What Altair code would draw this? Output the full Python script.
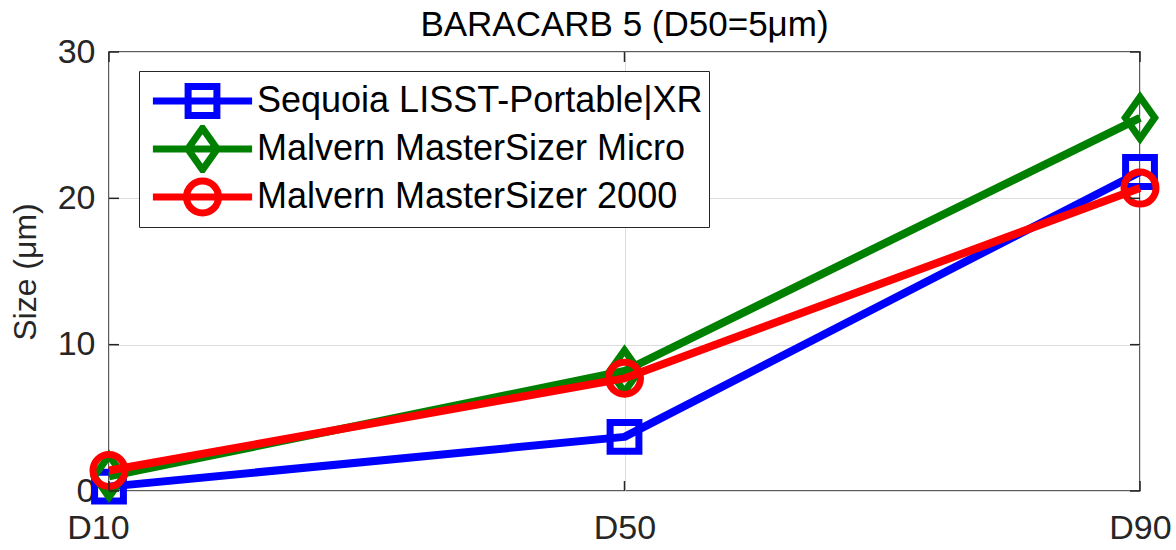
import altair as alt
import pandas as pd

# Particle size statistics for BARACARB 5, three instruments
positions = ["D10", "D50", "D90"]
sequoia = [0.3, 3.7, 21.8]
micro = [1.0, 8.2, 25.5]
ms2000 = [1.4, 7.7, 20.7]

series_names = [
    "Sequoia LISST-Portable|XR",
    "Malvern MasterSizer Micro",
    "Malvern MasterSizer 2000",
]
series_colors = ["#0000ff", "#008000", "#ff0000"]
y_ticks = [0, 10, 20, 30]

W, H = 1031, 439
FONT = "Liberation Sans"

rows = []
for name, vals in zip(series_names, [sequoia, micro, ms2000]):
    for p, v in zip(positions, vals):
        rows.append({"pos": p, "size": v, "series": name})
df = pd.DataFrame(rows)

# marker outlines in symbol units (scaled by sqrt(size)/2)
sq = "M-0.9,-0.9H0.9V0.9H-0.9Z"
di = "M0,-1.3L0.92,0L0,1.3L-0.92,0Z"
ci = "M-1,0A1,1,0,1,1,1,0A1,1,0,1,1,-1,0Z"
markers = [sq, di, ci]
# legend entries: marker with a line segment through it
leg_line = "M-3.1,0H3.1"
legend_paths = [leg_line + m for m in markers]
MARKER_SIZE = 1024

x_scale = alt.Scale(type="point", domain=positions, padding=0)
y_scale = alt.Scale(domain=[0, 30], nice=False)

x_enc = alt.X(
    "pos:N",
    scale=x_scale,
    sort=positions,
    axis=alt.Axis(
        title=None, labelAngle=0, ticks=False, domain=False,
        labelFont=FONT, labelFontSize=34, labelColor="#262626",
        labelPadding=20, grid=True, gridColor="#dcdcdc", gridWidth=1,
        labelOffset={"condition": {"test": "datum.value == 'D10'", "value": -11}, "value": 0},
    ),
)
y_enc = alt.Y(
    "size:Q",
    scale=y_scale,
    axis=alt.Axis(
        title="Size (μm)", values=y_ticks, ticks=False, domain=False,
        labelFont=FONT, labelFontSize=34, labelColor="#262626",
        labelPadding=14, grid=True, gridColor="#dcdcdc", gridWidth=1,
        titleFont=FONT, titleFontSize=32, titleColor="#262626",
        titleFontWeight="normal", titleAngle=270, titleX=-84, titleY=H / 2,
        titleAlign="center", titleBaseline="middle",
    ),
)

base = alt.Chart(df)
layers = []
for name, color, mk in zip(series_names, series_colors, markers):
    sub = base.transform_filter(alt.datum.series == name)
    layers.append(
        sub.mark_line(color=color, strokeWidth=8, strokeJoin="round").encode(
            x=x_enc, y=y_enc
        )
    )
    layers.append(
        sub.mark_point(
            shape=mk, size=MARKER_SIZE, filled=False,
            color=color, strokeWidth=7, opacity=1,
        ).encode(x=x_enc, y=y_enc)
    )

# inward tick marks on all four sides of the box
ytick_df = pd.DataFrame({"v": y_ticks})
xtick_df = pd.DataFrame({"pos": positions})
tick_style = dict(color="#262626", strokeWidth=1.5)
yt = alt.Chart(ytick_df).encode(y=alt.Y("v:Q", scale=y_scale))
xt = alt.Chart(xtick_df).encode(x=alt.X("pos:N", scale=x_scale, sort=positions))
layers += [
    yt.mark_rule(**tick_style).encode(x=alt.value(0), x2=alt.value(10)),
    yt.mark_rule(**tick_style).encode(x=alt.value(W - 10), x2=alt.value(W)),
    xt.mark_rule(**tick_style).encode(y=alt.value(H - 10), y2=alt.value(H)),
    xt.mark_rule(**tick_style).encode(y=alt.value(0), y2=alt.value(10)),
]

legend = alt.Legend(
    orient="none", legendX=30, legendY=19, title=None,
    labelFont=FONT, labelFontSize=36, labelColor="#000000", labelLimit=800,
    symbolSize=MARKER_SIZE, symbolStrokeWidth=7, symbolFillColor="transparent",
    symbolOpacity=1, clipHeight=48, rowPadding=0,
    symbolOffset=38, labelOffset=35, padding=6,
    fillColor="white", strokeColor="#262626",
)
legend_layer = base.transform_filter("false").mark_point(filled=False, strokeWidth=7, opacity=1).encode(
    x=x_enc,
    y=y_enc,
    color=alt.Color("series:N", scale=alt.Scale(domain=series_names, range=series_colors), legend=legend),
    shape=alt.Shape("series:N", scale=alt.Scale(domain=series_names, range=legend_paths), legend=legend),
)
layers.append(legend_layer)

chart = (
    alt.layer(*layers)
    .properties(
        width=W, height=H,
        title=alt.Title(
            "BARACARB 5 (D50=5μm)", font=FONT, fontSize=35, fontWeight="normal",
            color="#000000", offset=-8, frame="group",
        ),
        autosize=alt.AutoSizeParams(type="none"),
        padding={"left": 109, "top": 52, "right": 36, "bottom": 59},
        background="white",
    )
    .configure_view(stroke="#262626", strokeWidth=1.5)
)

chart.save("out.html", embed_options={"renderer": "svg", "actions": False})
